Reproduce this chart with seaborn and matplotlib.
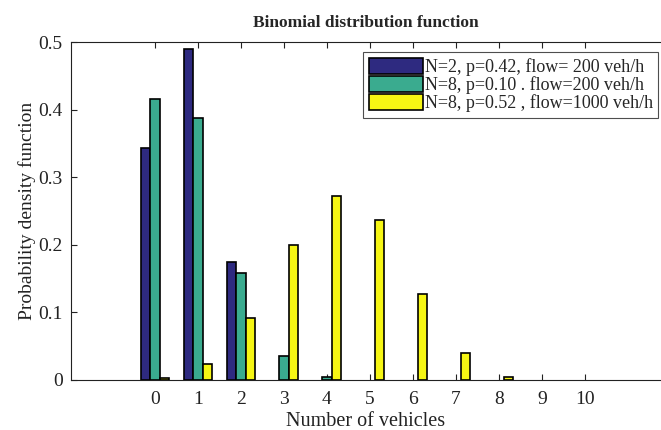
import matplotlib
matplotlib.use("Agg")
import matplotlib.pyplot as plt
import pandas as pd
import seaborn as sns

vehicles = list(range(11))
series_labels = [
    "N=2, p=0.42, flow= 200 veh/h",
    "N=8, p=0.10 . flow=200 veh/h",
    "N=8, p=0.52 , flow=1000 veh/h",
]
pdf_n2_p042 = [0.343, 0.489, 0.175]
pdf_n8_p010 = [0.415, 0.387, 0.158, 0.0355, 0.005]
pdf_n8_p052 = [0.003, 0.024, 0.092, 0.200, 0.272, 0.237, 0.127, 0.040, 0.005]
colors = ["#2e2a80", "#3aab8f", "#f6f614"]

rows = []
for label, vals in zip(series_labels, [pdf_n2_p042, pdf_n8_p010, pdf_n8_p052]):
    for k, v in enumerate(vals):
        rows.append({"vehicles": k, "series": label, "pdf": v})
df = pd.DataFrame(rows)

sns.set_style("white")
plt.rcParams["font.family"] = ["Liberation Serif", "DejaVu Serif"]

fig = plt.figure(figsize=(6.61, 4.30), dpi=100)
ax = fig.add_axes([0.1074, 0.1163, 0.8926, 0.786])

sns.barplot(data=df, x="vehicles", y="pdf", hue="series", order=vehicles,
            hue_order=series_labels, palette=colors, width=0.66,
            edgecolor="black", linewidth=1.2, saturation=1, ax=ax)

ax.set_xlim(-1.95, 11.77)
ax.set_ylim(0, 0.5)
ax.set_yticks([0, 0.1, 0.2, 0.3, 0.4, 0.5])
ax.set_yticklabels(["0", "0.1", "0.2", "0.3", "0.4", "0.5"])
ax.set_xticks(vehicles)
ax.set_xticklabels([str(v) for v in vehicles])
ax.tick_params(axis="both", direction="in", length=4, width=0.8, labelsize=14,
               top=True, left=True, bottom=True, colors="#222222")
ax.tick_params(axis="x", pad=8)
ax.tick_params(axis="y", pad=6)
ax.set_xlabel("Number of vehicles", fontsize=14.5, labelpad=3, color="#222222")
ax.set_ylabel("Probability density function", fontsize=14, labelpad=2, color="#222222")
ax.set_title("Binomial distribution function", fontsize=12.5, fontweight="bold", pad=11)

for side in ["left", "bottom", "top"]:
    ax.spines[side].set_color("#222222")
    ax.spines[side].set_linewidth(0.8)
ax.spines["right"].set_visible(False)

leg = ax.legend(loc="upper right", bbox_to_anchor=(0.995, 0.97), fontsize=13,
                frameon=True, fancybox=False, edgecolor="#222222",
                handlelength=3.0, handleheight=1.0, handletextpad=0.1,
                labelspacing=0.0, borderpad=0.3, borderaxespad=0)
leg.get_frame().set_linewidth(0.8)

fig.savefig("out.png", dpi=100)
